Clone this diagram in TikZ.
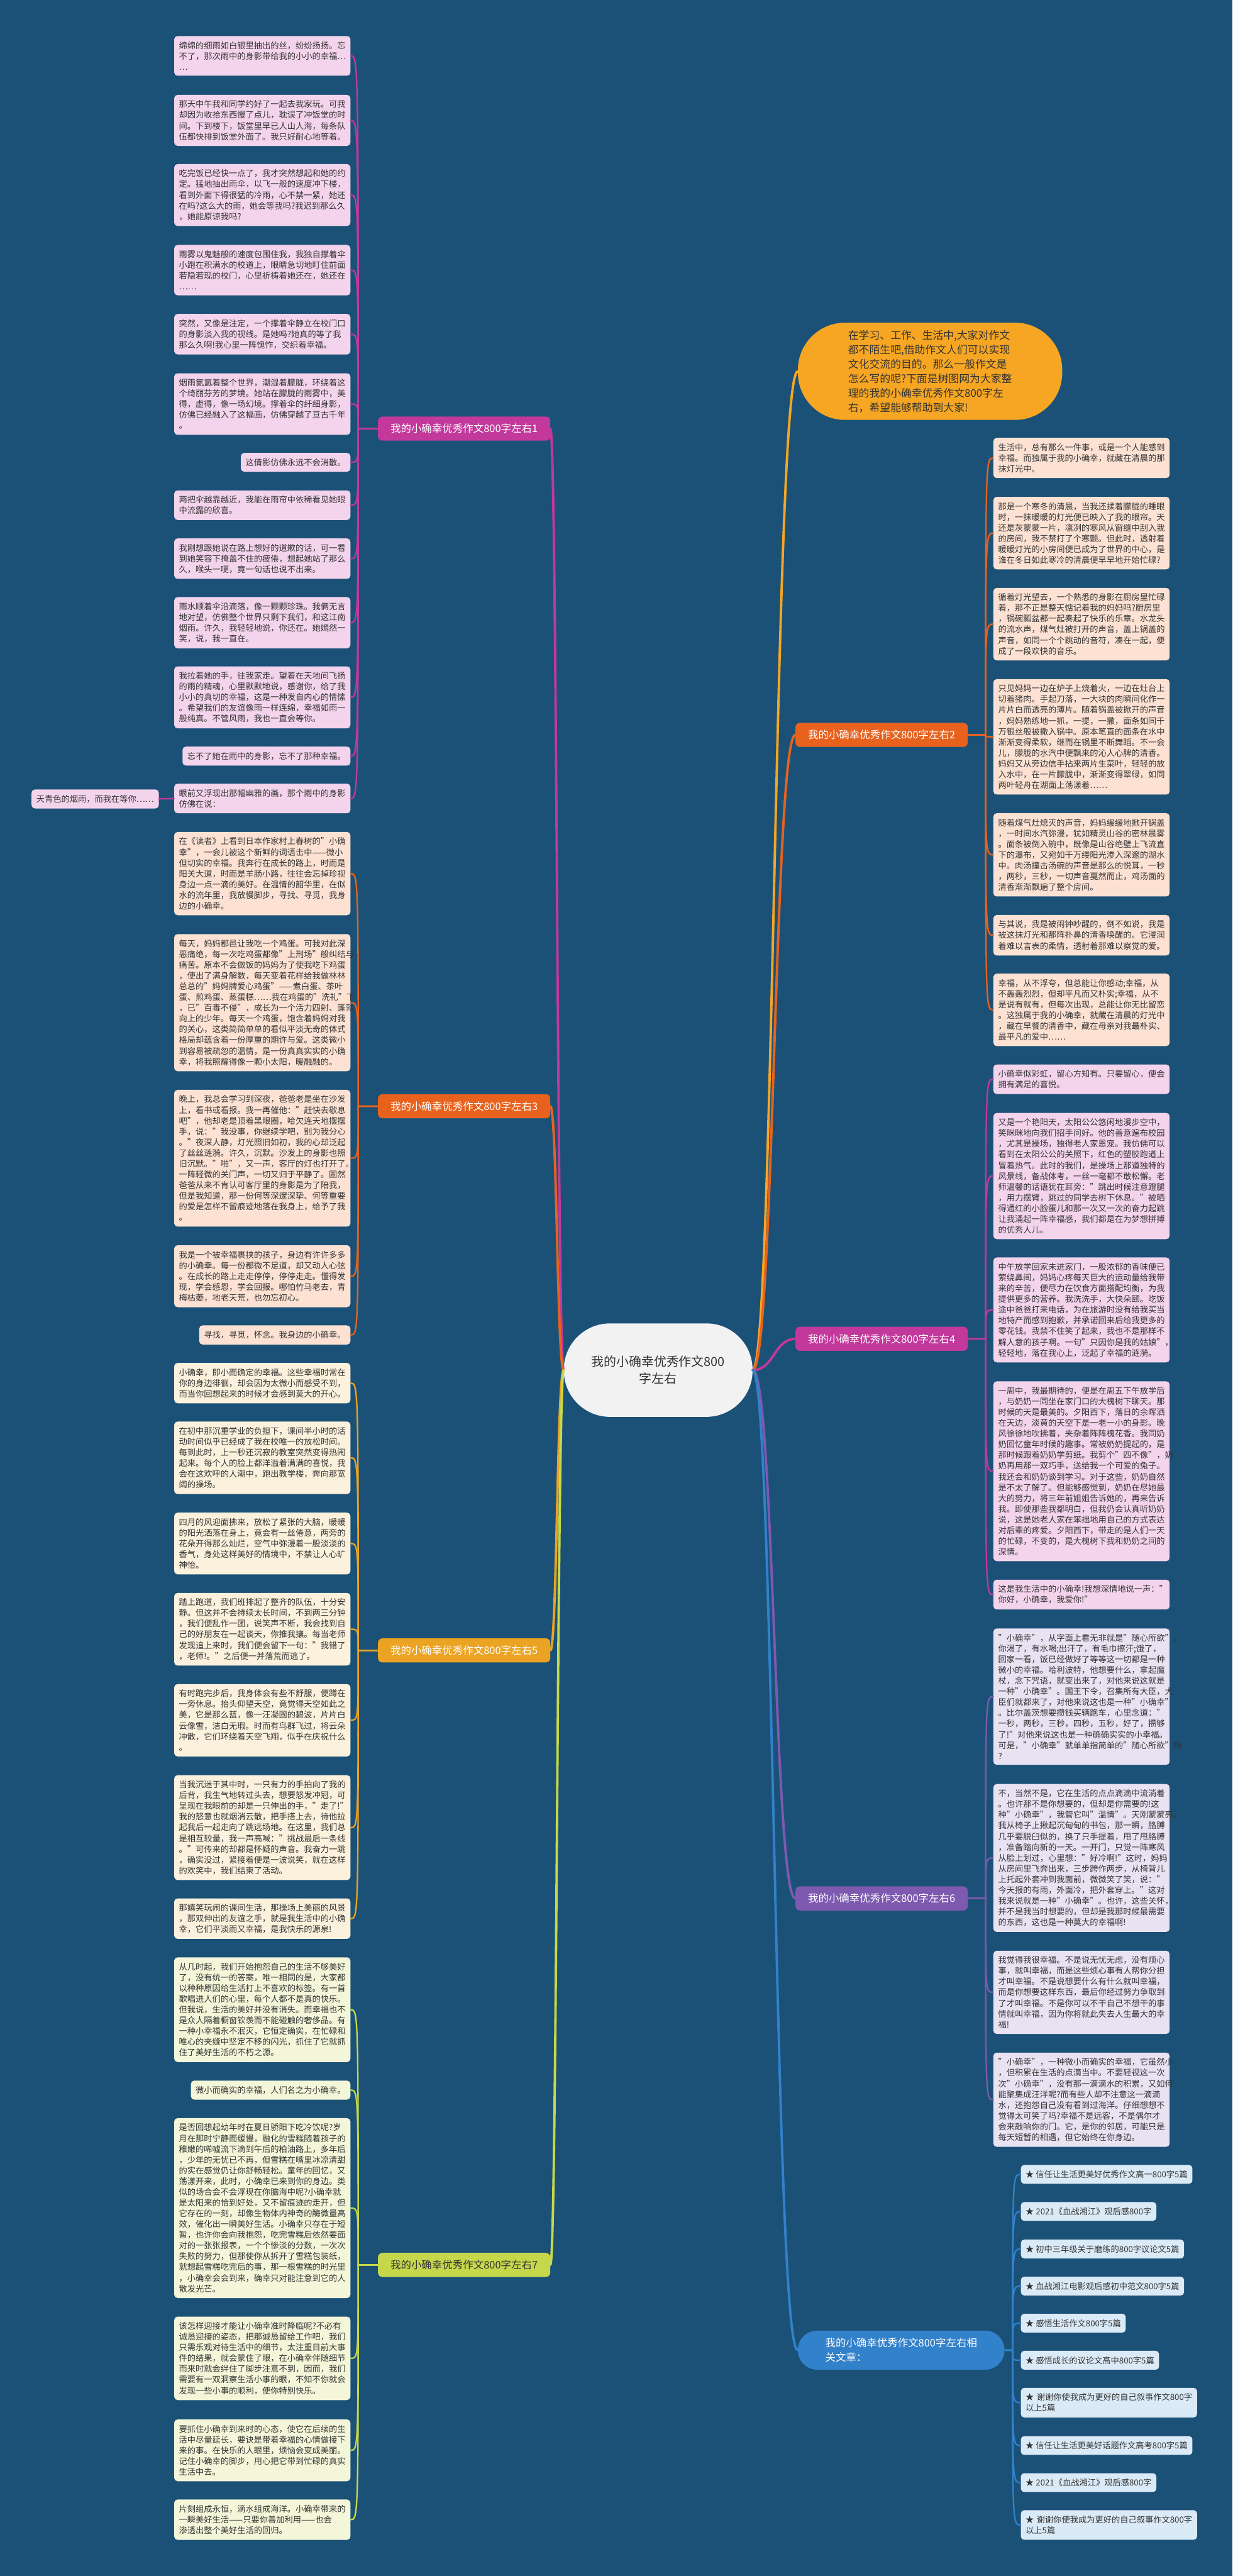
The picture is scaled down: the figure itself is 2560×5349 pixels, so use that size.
\documentclass[tikz,border=0pt]{standalone}
\usepackage{fontspec}
\setmainfont{Noto Sans CJK SC}
\usetikzlibrary{calc}
\definecolor{bg}{HTML}{1B5177}
\definecolor{txt}{HTML}{333333}
\definecolor{cen}{HTML}{F2F2F2}
\definecolor{cA}{HTML}{C2399B}
\definecolor{fA}{HTML}{F4D4EC}
\definecolor{cB}{HTML}{E8621E}
\definecolor{fB}{HTML}{FDE2D3}
\definecolor{cC}{HTML}{EBA323}
\definecolor{fC}{HTML}{FCF1DC}
\definecolor{cD}{HTML}{C5D84B}
\definecolor{fD}{HTML}{F4F6D9}
\definecolor{cE}{HTML}{F6A623}
\definecolor{cF}{HTML}{7D5AB0}
\definecolor{fF}{HTML}{E8E2F3}
\definecolor{cG}{HTML}{3281CB}
\definecolor{fG}{HTML}{DBEAF7}
\newcommand\leaffont{\fontsize{17.3pt}{22.3pt}\selectfont}
\newcommand\brfont{\fontsize{21.5pt}{30pt}\selectfont}
\newcommand\cenfont{\fontsize{26pt}{36pt}\selectfont}
\newcommand\Lk[4]{\draw[#1] (#2.west) -- (#3) .. controls (#3 |- #4.east) and (#3 |- #4.east) .. (#4.east);}
\newcommand\Rk[4]{\draw[#1] (#2.east) -- (#3) .. controls (#3 |- #4.west) and (#3 |- #4.west) .. (#4.west);}
\newcommand\CL[3]{\draw[#1] (c.west) .. controls (#2 |- c.west) and (#2 |- #3.east) .. (#3.east);}
\newcommand\CR[3]{\draw[#1] (c.east) .. controls (#2 |- c.east) and (#2 |- #3.west) .. (#3.west);}
\begin{document}
\begin{tikzpicture}[x=1pt,y=-1pt,
  leaf/.style={rectangle, rounded corners=7pt, text=txt, font=\leaffont, align=left, text width=346pt, inner xsep=10pt, inner ysep=11.5pt},
  leafs/.style={rectangle, rounded corners=7pt, text=txt, font=\leaffont, align=left, inner xsep=10pt, inner ysep=11.5pt},
  br/.style={rectangle, rounded corners=9pt, font=\brfont, text=white, minimum height=50pt, inner xsep=26pt, inner ysep=4pt},
  lk/.style={line width=3pt, line cap=round},
  ck/.style={line width=5pt, line cap=round}]
\fill[bg] (0,0) rectangle (2560,5349);
\useasboundingbox (0,0) rectangle (2560,5349);

% center
\node[fill=cen, text=txt, rounded corners=96pt, minimum width=392pt, minimum height=194pt, font=\cenfont, align=center] (c) at (1367,2845) {我的小确幸优秀作文800\\字左右};

% branches
\node[br, fill=cA, anchor=east] (b1) at (1143,890) {我的小确幸优秀作文800字左右1};
\node[br, fill=cB, anchor=east] (b3) at (1143,2297) {我的小确幸优秀作文800字左右3};
\node[br, fill=cC, anchor=east] (b5) at (1143,3427) {我的小确幸优秀作文800字左右5};
\node[br, fill=cD, text=txt, anchor=east] (b7) at (1143,4703) {我的小确幸优秀作文800字左右7};
\node[fill=cE, text=txt, rounded corners=98pt, minimum width=549pt, minimum height=202pt, font=\fontsize{22pt}{30pt}\selectfont, align=left, anchor=west] (intro) at (1657,771) {在学习、工作、生活中,大家对作文\\都不陌生吧,借助作文人们可以实现\\文化交流的目的。那么一般作文是\\怎么写的呢?下面是树图网为大家整\\理的我的小确幸优秀作文800字左\\右，希望能够帮助到大家!};
\node[br, fill=cB, anchor=west] (b2) at (1652,1526) {我的小确幸优秀作文800字左右2};
\node[br, fill=cA, anchor=west] (b4) at (1652,2780) {我的小确幸优秀作文800字左右4};
\node[br, fill=cF, anchor=west] (b6) at (1652,3942) {我的小确幸优秀作文800字左右6};
\node[fill=cG, text=white, rounded corners=40pt, minimum width=429pt, minimum height=81pt, font=\brfont, align=left, anchor=west] (rel) at (1657,4880) {我的小确幸优秀作文800字左右相\\关文章：};

\coordinate (tA) at (744,890);
\coordinate (tB) at (744,2297);
\coordinate (tC) at (744,3427);
\coordinate (tD) at (744,4703);
\coordinate (t2) at (2047,1526);
\coordinate (t4) at (2047,2780);
\coordinate (t6) at (2047,3942);
\coordinate (tR) at (2103,4880);
\coordinate (cl) at (1157,2845);
\coordinate (cr) at (1608,2845);

% ---------- branch 1 leaves
\begin{scope}[every node/.append style={fill=fA, anchor=east}]
\node[leaf] (L1) at (728,116) {绵绵的细雨如白银里抽出的丝，纷纷扬扬。忘\\不了，那次雨中的身影带给我的小小的幸福…\\…};
\node[leaf] (L2) at (728,250) {那天中午我和同学约好了一起去我家玩。可我\\却因为收拾东西慢了点儿，耽误了冲饭堂的时\\间。下到楼下，饭堂里早已人山人海，每条队\\伍都快排到饭堂外面了。我只好耐心地等着。};
\node[leaf] (L3) at (728,405) {吃完饭已经快一点了，我才突然想起和她的约\\定。猛地抽出雨伞，以飞一般的速度冲下楼，\\看到外面下得很猛的冷雨，心不禁一紧，她还\\在吗?这么大的雨，她会等我吗?我迟到那么久\\，她能原谅我吗?};
\node[leaf] (L4) at (728,561) {雨雾以鬼魅般的速度包围住我，我独自撑着伞\\小跑在积满水的校道上，眼睛急切地盯住前面\\若隐若现的校门，心里祈祷着她还在，她还在\\……};
\node[leaf] (L5) at (728,694) {突然，又像是注定，一个撑着伞静立在校门口\\的身影淡入我的视线。是她吗?她真的等了我\\那么久啊!我心里一阵愧怍，交织着幸福。};
\node[leaf] (L6) at (728,839) {烟雨氤氲着整个世界，潮湿着朦胧，环绕着这\\个绮丽芬芳的梦境。她站在朦胧的雨雾中，美\\得，虚得，像一场幻境。撑着伞的纤细身影，\\仿佛已经融入了这幅画，仿佛穿越了亘古千年\\。};
\node[leafs] (L7) at (728,960) {这倩影仿佛永远不会消散。};
\node[leaf] (L8) at (728,1049) {两把伞越靠越近，我能在雨帘中依稀看见她眼\\中流露的欣喜。};
\node[leaf] (L9) at (728,1160) {我刚想跟她说在路上想好的道歉的话，可一看\\到她笑容下掩盖不住的疲倦，想起她站了那么\\久，喉头一哽，竟一句话也说不出来。};
\node[leaf] (L10) at (728,1293) {雨水顺着伞沿滴落，像一颗颗珍珠。我俩无言\\地对望，仿佛整个世界只剩下我们，和这江南\\烟雨。许久，我轻轻地说，你还在。她嫣然一\\笑，说，我一直在。};
\node[leaf] (L11) at (728,1448) {我拉着她的手，往我家走。望着在天地间飞扬\\的雨的精魂，心里默默地说，感谢你，给了我\\小小的真切的幸福，这是一种发自内心的情愫\\。希望我们的友谊像雨一样连绵，幸福如雨一\\般纯真。不管风雨，我也一直会等你。};
\node[leafs] (L12) at (728,1570) {忘不了她在雨中的身影，忘不了那种幸福。};
\node[leaf] (L13) at (728,1658) {眼前又浮现出那幅幽雅的画，那个雨中的身影\\仿佛在说：};
\node[leafs] (sky) at (330,1659) {天青色的烟雨，而我在等你……};
\end{scope}

% ---------- branch 3 leaves
\begin{scope}[every node/.append style={fill=fB, anchor=east}]
\node[leaf] (A1) at (728,1814) {在《读者》上看到日本作家村上春树的"小确\\幸"，一会儿被这个新鲜的词语击中——微小\\但切实的幸福。我奔行在成长的路上，时而是\\阳关大道，时而是羊肠小路，往往会忘掉珍视\\身边一点一滴的美好。在温情的韶华里，在似\\水的流年里，我放慢脚步，寻找、寻觅，我身\\边的小确幸。};
\node[leaf] (A2) at (728,2082) {每天，妈妈都邑让我吃一个鸡蛋。可我对此深\\恶痛绝，每一次吃鸡蛋都像"上刑场"般纠结与\\痛苦。原本不会做饭的妈妈为了使我吃下鸡蛋\\，使出了满身解数，每天变着花样给我做林林\\总总的"妈妈牌爱心鸡蛋"——煮白蛋、茶叶\\蛋、煎鸡蛋、蒸蛋糕……我在鸡蛋的"洗礼"下\\，已"百毒不侵"，成长为一个活力四射、蓬勃\\向上的少年。每天一个鸡蛋，饱含着妈妈对我\\的关心，这类简简单单的看似平淡无奇的体式\\格局却蕴含着一份厚重的期许与爱。这类微小\\到容易被疏忽的温情，是一份真真实实的小确\\幸，将我照耀得像一颗小太阳，暖融融的。};
\node[leaf] (A3) at (728,2405) {晚上，我总会学习到深夜，爸爸老是坐在沙发\\上，看书或看报。我一再催他："赶快去歇息\\吧"，他却老是顶着黑眼圈，哈欠连天地摆摆\\手，说："我没事，你继续学吧，别为我分心\\。"夜深人静，灯光照旧如初，我的心却泛起\\了丝丝涟漪。许久，沉默。沙发上的身影也照\\旧沉默。"啪"，又一声，客厅的灯也打开了。\\一阵轻微的关门声，一切又归于平静了。固然\\爸爸从来不肯认可客厅里的身影是为了陪我，\\但是我知道，那一份何等深邃深挚、何等重要\\的爱是怎样不留痕迹地落在我身上，给予了我\\。};
\node[leaf] (A4) at (728,2650) {我是一个被幸福裹挟的孩子，身边有许许多多\\的小确幸。每一份都微不足道，却又动人心弦\\。在成长的路上走走停停，停停走走。懂得发\\现，学会感恩，学会回报。哪怕竹马老去，青\\梅枯萎，地老天荒，也勿忘初心。};
\node[leafs] (A5) at (728,2772) {寻找，寻觅，怀念。我身边的小确幸。};
\end{scope}

% ---------- branch 5 leaves
\begin{scope}[every node/.append style={fill=fC, anchor=east}]
\node[leaf] (Y1) at (728,2872) {小确幸，即小而确定的幸福。这些幸福时常在\\你的身边徘徊，却会因为太微小而感受不到，\\而当你回想起来的时候才会感到莫大的开心。};
\node[leaf] (Y2) at (728,3027) {在初中那沉重学业的负担下，课间半小时的活\\动时间似乎已经成了我在校唯一的放松时间。\\每到此时，上一秒还沉寂的教室突然变得热闹\\起来。每个人的脸上都洋溢着满满的喜悦，我\\会在这欢呼的人潮中，跑出教学楼，奔向那宽\\阔的操场。};
\node[leaf] (Y3) at (728,3205) {四月的风迎面拂来，放松了紧张的大脑，暖暖\\的阳光洒落在身上，竟会有一丝倦意，两旁的\\花朵开得那么灿烂，空气中弥漫着一股淡淡的\\香气，身处这样美好的情境中，不禁让人心旷\\神怡。};
\node[leaf] (Y4) at (728,3383) {踏上跑道，我们班排起了整齐的队伍，十分安\\静。但这并不会持续太长时间，不到两三分钟\\，我们便乱作一团，说笑声不断，我会找到自\\己的好朋友在一起谈天，你推我攘。每当老师\\发现追上来时，我们便会留下一句："我错了\\，老师!。"之后便一并落荒而逃了。};
\node[leaf] (Y5) at (728,3572) {有时跑完步后，我身体会有些不舒服，便蹲在\\一旁休息。抬头仰望天空，竟觉得天空如此之\\美，它是那么蓝，像一汪凝固的碧波，片片白\\云像雪，洁白无瑕。时而有鸟群飞过，将云朵\\冲散，它们环绕着天空飞翔，似乎在庆祝什么\\。};
\node[leaf] (Y6) at (728,3795) {当我沉迷于其中时，一只有力的手拍向了我的\\后背，我生气地转过头去，想要怒发冲冠，可\\呈现在我眼前的却是一只伸出的手，"走了!"\\我的怒意也就烟消云散，把手搭上去，待他拉\\起我后一起走向了跳远场地。在这里，我们总\\是相互较量，我一声高喊："挑战最后一条线\\。"可传来的却都是怀疑的声音。我奋力一跳\\，确实没过，紧接着便是一波说笑，就在这样\\的欢笑中，我们结束了活动。};
\node[leaf] (Y7) at (728,3984) {那嬉笑玩闹的课间生活，那操场上美丽的风景\\，那双伸出的友谊之手，就是我生活中的小确\\幸，它们平淡而又幸福，是我快乐的源泉!};
\end{scope}

% ---------- branch 7 leaves
\begin{scope}[every node/.append style={fill=fD, anchor=east}]
\node[leaf] (G1) at (728,4173) {从几时起，我们开始抱怨自己的生活不够美好\\了，没有统一的答案，唯一相同的是，大家都\\以种种原因给生活打上不喜欢的标签。有一首\\歌唱进人们的心里，每个人都不是真的快乐。\\但我说，生活的美好并没有消失。而幸福也不\\是众人隔着橱窗钦羡而不能碰触的奢侈品。有\\一种小幸福永不泯灭，它恒定确实，在忙碌和\\唯心的夹缝中坚定不移的闪光，抓住了它就抓\\住了美好生活的不朽之源。};
\node[leafs] (G2) at (728,4340) {微小而确实的幸福，人们名之为小确幸。};
\node[leaf] (G3) at (728,4585) {是否回想起幼年时在夏日骄阳下吃冷饮呢?岁\\月在那时宁静而缓慢，融化的雪糕随着孩子的\\稚嫩的唏嘘流下滴到午后的柏油路上，多年后\\，少年的无忧已不再，但雪糕在嘴里冰凉清甜\\的实在感觉仍让你舒畅轻松。童年的回忆，又\\荡漾开来，此时，小确幸已来到你的身边。类\\似的场合会不会浮现在你脑海中呢?小确幸就\\是太阳来的恰到好处，又不留痕迹的走开，但\\它存在的一刻，却像生物体内神奇的酶微量高\\效，催化出一瞬美好生活。小确幸只存在于短\\暂，也许你会向我抱怨，吃完雪糕后依然要面\\对的一张张报表，一个个惨淡的分数，一次次\\失败的努力，但那使你从拆开了雪糕包装纸，\\就想起雪糕吃完后的事，那一根雪糕的时光里\\，小确幸会会到来，确幸只对能注意到它的人\\散发光芒。};
\node[leaf] (G4) at (728,4897) {该怎样迎接才能让小确幸准时降临呢?不必有\\诚恳迎接的姿态，把那诚恳留给工作吧，我们\\只需乐观对待生活中的细节，太注重目前大事\\件的结果，就会蒙住了眼，在小确幸伴随细节\\而来时就会绊住了脚步注意不到，因而，我们\\需要有一双洞察生活小事的眼，不知不你就会\\发现一些小事的顺利，使你特别快乐。};
\node[leaf] (G5) at (728,5088) {要抓住小确幸到来时的心态，使它在后续的生\\活中尽量延长，要诀是带着幸福的心情做接下\\来的事。在快乐的人眼里，烦恼会变成美丽。\\记住小确幸的脚步，用心把它带到忙碌的真实\\生活中去。};
\node[leaf] (G6) at (728,5232) {片刻组成永恒，滴水组成海洋。小确幸带来的\\一瞬美好生活——只要你善加利用——也会\\渗透出整个美好生活的回归。};
\end{scope}

% ---------- branch 2 leaves
\begin{scope}[every node/.append style={fill=fB, anchor=west}]
\node[leaf] (R1) at (2063,951) {生活中，总有那么一件事，或是一个人能感到\\幸福。而独属于我的小确幸，就藏在清晨的那\\抹灯光中。};
\node[leaf] (R2) at (2063,1107) {那是一个寒冬的清晨，当我还揉着朦胧的睡眼\\时，一抹暖暖的灯光便已映入了我的眼帘。天\\还是灰蒙蒙一片，凛冽的寒风从窗缝中刮入我\\的房间，我不禁打了个寒颤。但此时，透射着\\暖暖灯光的小房间便已成为了世界的中心，是\\谁在冬日如此寒冷的清晨便早早地开始忙碌?};
\node[leaf] (R3) at (2063,1296) {循着灯光望去，一个熟悉的身影在厨房里忙碌\\着，那不正是整天惦记着我的妈妈吗?厨房里\\，锅碗瓢盆都一起奏起了快乐的乐章。水龙头\\的流水声，煤气灶被打开的声音，盖上锅盖的\\声音，如同一个个跳动的音符，凑在一起，便\\成了一段欢快的音乐。};
\node[leaf] (R4) at (2063,1530) {只见妈妈一边在炉子上烧着火，一边在灶台上\\切着猪肉。手起刀落，一大块的肉瞬间化作一\\片片白而透亮的薄片。随着锅盖被掀开的声音\\，妈妈熟练地一抓，一提，一撒，面条如同千\\万银丝般被撒入锅中。原本笔直的面条在水中\\渐渐变得柔软，继而在锅里不断舞蹈。不一会\\儿，朦胧的水汽中便飘来的沁人心脾的清香。\\妈妈又从旁边信手拈来两片生菜叶，轻轻的放\\入水中，在一片朦胧中，渐渐变得翠绿，如同\\两叶轻舟在湖面上荡漾着……};
\node[leaf] (R5) at (2063,1775) {随着煤气灶熄灭的声音，妈妈缓缓地掀开锅盖\\，一时间水汽弥漫，犹如精灵山谷的密林晨雾\\。面条被倒入碗中，既像是山谷绝壁上飞流直\\下的瀑布，又宛如千万缕阳光渗入深邃的湖水\\中。肉汤撞击汤碗的声音是那么的悦耳，一秒\\，两秒，三秒，一切声音戛然而止，鸡汤面的\\清香渐渐飘遍了整个房间。};
\node[leaf] (R6) at (2063,1942) {与其说，我是被闹钟吵醒的，倒不如说，我是\\被这抹灯光和那阵扑鼻的清香唤醒的。它浸润\\着难以言表的柔情，透射着那难以察觉的爱。};
\node[leaf] (R7) at (2063,2097) {幸福，从不浮夸，但总能让你感动;幸福，从\\不轰轰烈烈，但却平凡而又朴实;幸福，从不\\是说有就有，但每次出现，总能让你无比留恋\\。这独属于我的小确幸，就藏在清晨的灯光中\\，藏在早餐的清香中，藏在母亲对我最朴实、\\最平凡的爱中……};
\end{scope}

% ---------- branch 4 leaves
\begin{scope}[every node/.append style={fill=fA, anchor=west}]
\node[leaf] (P1) at (2063,2241) {小确幸似彩虹，留心方知有。只要留心，便会\\拥有满足的喜悦。};
\node[leaf] (P2) at (2063,2442) {又是一个艳阳天，太阳公公悠闲地漫步空中，\\笑眯眯地向我们招手问好。他的善意遍布校园\\，尤其是操场，独得老人家恩宠。我仿佛可以\\看到在太阳公公的关照下，红色的塑胶跑道上\\冒着热气。此时的我们，是操场上那道独特的\\风景线，备战体考，一丝一毫都不敢松懈。老\\师温馨的话语犹在耳旁："跳出时候注意蹬腿\\，用力摆臂，跳过的同学去树下休息。"被晒\\得通红的小脸蛋儿和那一次又一次的奋力起跳\\让我涌起一阵幸福感，我们都是在为梦想拼搏\\的优秀人儿。};
\node[leaf] (P3) at (2063,2720) {中午放学回家未进家门，一股浓郁的香味便已\\萦绕鼻间，妈妈心疼每天巨大的运动量给我带\\来的辛苦，便尽力在饮食方面搭配均衡，为我\\提供更多的营养。我洗洗手，大快朵颐。吃饭\\途中爸爸打来电话，为在旅游时没有给我买当\\地特产而感到抱歉，并承诺回来后给我更多的\\零花钱。我禁不住笑了起来，我也不是那样不\\解人意的孩子啊。一句"只因你是我的姑娘"，\\轻轻地，落在我心上，泛起了幸福的涟漪。};
\node[leaf] (P4) at (2063,3055) {一周中，我最期待的，便是在周五下午放学后\\，与奶奶一同坐在家门口的大槐树下聊天。那\\时候的天是最美的。夕阳西下，落日的余晖洒\\在天边，淡黄的天空下是一老一小的身影。晚\\风徐徐地吹拂着，夹杂着阵阵槐花香。我同奶\\奶回忆童年时候的趣事。常被奶奶提起的，是\\那时候跟着奶奶学剪纸。我剪个"四不像"，奶\\奶再用那一双巧手，送给我一个可爱的兔子。\\我还会和奶奶谈到学习。对于这些，奶奶自然\\是不太了解了。但能够感觉到，奶奶在尽她最\\大的努力，将三年前姐姐告诉她的，再来告诉\\我。即使那些我都明白，但我仍会认真听奶奶\\说，这是她老人家在笨拙地用自己的方式表达\\对后辈的疼爱。夕阳西下，带走的是人们一天\\的忙碌，不变的，是大槐树下我和奶奶之间的\\深情。};
\node[leaf] (P5) at (2063,3311) {这是我生活中的小确幸!我想深情地说一声："\\你好，小确幸，我爱你!"};
\end{scope}

% ---------- branch 6 leaves
\begin{scope}[every node/.append style={fill=fF, anchor=west}]
\node[leaf] (V1) at (2063,3523) {"小确幸"，从字面上看无非就是"随心所欲"。\\你渴了，有水喝;出汗了，有毛巾擦汗;饿了，\\回家一看，饭已经做好了等等这一切都是一种\\微小的幸福。哈利波特，他想要什么，拿起魔\\杖，念下咒语，就变出来了，对他来说这就是\\一种"小确幸"。国王下令，召集所有大臣，大\\臣们就都来了，对他来说这也是一种"小确幸"\\。比尔盖茨想要攒钱买辆跑车，心里念道："\\一秒，两秒，三秒，四秒，五秒，好了，攒够\\了!"对他来说这也是一种确确实实的小幸福。\\可是，"小确幸"就单单指简单的"随心所欲"吗\\?};
\node[leaf] (V2) at (2063,3858) {不，当然不是，它在生活的点点滴滴中流淌着\\。也许那不是你想要的，但却是你需要的!这\\种"小确幸"，我管它叫"温情"。天刚蒙蒙亮，\\我从椅子上揪起沉甸甸的书包，那一瞬，胳膊\\几乎要脱臼似的，换了只手提着，甩了甩胳膊\\，准备踏向新的一天。一开门，只觉一阵寒风\\从脸上划过，心里想："好冷啊!"这时，妈妈\\从房间里飞奔出来，三步跨作两步，从椅背儿\\上托起外套冲到我面前，微微笑了笑，说："\\今天报的有雨，外面冷，把外套穿上。"这对\\我来说就是一种"小确幸"。也许，这些关怀，\\并不是我当时想要的，但却是我那时候最需要\\的东西，这也是一种莫大的幸福啊!};
\node[leaf] (V3) at (2063,4137) {我觉得我很幸福。不是说无忧无虑，没有烦心\\事，就叫幸福，而是这些烦心事有人帮你分担\\才叫幸福。不是说想要什么有什么就叫幸福，\\而是你想要这样东西，最后你经过努力争取到\\了才叫幸福。不是你可以不干自己不想干的事\\情就叫幸福，因为你将就此失去人生最大的幸\\福!};
\node[leaf] (V4) at (2063,4360) {"小确幸"，一种微小而确实的幸福，它虽然小\\，但积累在生活的点滴当中。不要轻视这一次\\次"小确幸"，没有那一滴滴水的积累，又如何\\能聚集成汪洋呢?而有些人却不注意这一滴滴\\水，还抱怨自己没有看到过海洋。仔细想想不\\觉得太可笑了吗?幸福不是远客，不是偶尔才\\会来敲响你的门。它，是你的邻居，可能只是\\每天短暂的相遇，但它始终在你身边。};
\end{scope}

% ---------- related leaves
\begin{scope}[every node/.append style={fill=fG, anchor=west}]
\node[leafs] (S1) at (2120,4515) {★ 信任让生活更美好优秀作文高一800字5篇};
\node[leafs] (S2) at (2120,4592) {★ 2021《血战湘江》观后感800字};
\node[leafs] (S3) at (2120,4670) {★ 初中三年级关于磨练的800字议论文5篇};
\node[leafs] (S4) at (2120,4747) {★ 血战湘江电影观后感初中范文800字5篇};
\node[leafs] (S5) at (2120,4824) {★ 感悟生活作文800字5篇};
\node[leafs] (S6) at (2120,4901) {★ 感悟成长的议论文高中800字5篇};
\node[leaf] (S7) at (2120,4989) {★ 谢谢你使我成为更好的自己叙事作文800字\\以上5篇};
\node[leafs] (S8) at (2120,5078) {★ 信任让生活更美好话题作文高考800字5篇};
\node[leafs] (S9) at (2120,5155) {★ 2021《血战湘江》观后感800字};
\node[leaf] (S10) at (2120,5243) {★ 谢谢你使我成为更好的自己叙事作文800字\\以上5篇};
\end{scope}

% ---------- connectors: center to branches
\CL{ck, cA}{cl}{b1}
\CL{ck, cB}{cl}{b3}
\CL{ck, cC}{cl}{b5}
\CL{ck, cD}{cl}{b7}
\CR{ck, cE}{cr}{intro}
\CR{ck, cB}{cr}{b2}
\CR{ck, cA}{cr}{b4}
\CR{ck, cF}{cr}{b6}
\CR{ck, cG}{cr}{rel}

% ---------- connectors: branches to leaves
\foreach \n in {L1,L2,L3,L4,L5,L6,L7,L8,L9,L10,L11,L12,L13}{\Lk{lk, cA}{b1}{tA}{\n}}
\draw[lk, cA] (L13.west) -- (sky.east);
\foreach \n in {A1,A2,A3,A4,A5}{\Lk{lk, cB}{b3}{tB}{\n}}
\foreach \n in {Y1,Y2,Y3,Y4,Y5,Y6,Y7}{\Lk{lk, cC}{b5}{tC}{\n}}
\foreach \n in {G1,G2,G3,G4,G5,G6}{\Lk{lk, cD}{b7}{tD}{\n}}
\foreach \n in {R1,R2,R3,R4,R5,R6,R7}{\Rk{lk, cB}{b2}{t2}{\n}}
\foreach \n in {P1,P2,P3,P4,P5}{\Rk{lk, cA}{b4}{t4}{\n}}
\foreach \n in {V1,V2,V3,V4}{\Rk{lk, cF}{b6}{t6}{\n}}
\foreach \n in {S1,S2,S3,S4,S5,S6,S7,S8,S9,S10}{\Rk{lk, cG}{rel}{tR}{\n}}
\end{tikzpicture}
\end{document}
